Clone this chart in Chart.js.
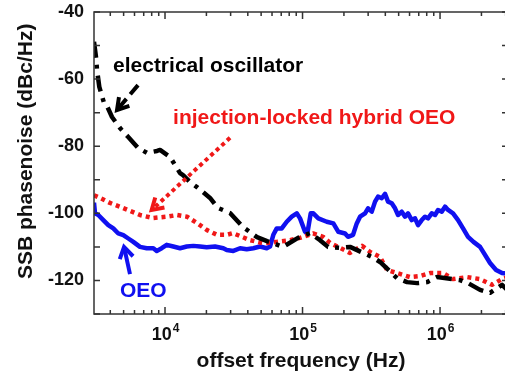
<!DOCTYPE html>
<html>
<head>
<meta charset="utf-8">
<script src="https://cdn.jsdelivr.net/npm/chart.js@4"></script>
<style>
  html, body { margin: 0; padding: 0; background: #fff; overflow: hidden; }
  #wrap { width: 505px; height: 376px; overflow: hidden; }
</style>
</head>
<body>
<div id="wrap"><canvas id="myChart" width="508" height="376"></canvas></div>
<script>
// offset frequency (Hz) and SSB phase noise (dBc/Hz)
const oeoFreq = [3045, 3097, 3274, 3559, 3870, 4207, 4574, 4975, 5409, 5881, 6579, 7361, 8220, 8700, 9463,
    10290, 11490, 12860, 14380, 16060, 17970, 20100, 23110, 26550, 28100, 31390, 35120, 39290, 43870, 49080,
    54910, 58020, 61330, 64930, 70600, 76770, 83480, 90760, 95900, 104300, 108400, 114700, 119800, 130300,
    150000, 167500, 182200, 203800, 214200, 233000, 247900, 261900, 284800, 299500, 318700, 336800, 354100,
    376700, 398100, 418700, 445400, 470700, 495000, 526700, 556600, 585300, 622600, 657900, 691800, 736100,
    778000, 817700, 870100, 919500, 967100, 1029000, 1087000, 1144000, 1243000, 1352000, 1470000, 1598000,
    1750000, 1954000, 2310000, 2555000, 2824000, 3120000];
const oeoNoise = [-96.8, -100.0, -100.5, -102.0, -103.5, -104.5, -106.0, -106.5, -107.5, -108.5, -110.0, -110.4, -110.4, -111.2, -110.4,
    -109.4, -109.9, -110.4, -109.9, -109.7, -109.9, -110.1, -109.9, -110.4, -110.9, -111.2, -110.4, -110.7, -110.4, -109.9,
    -110.4, -109.9, -106.4, -104.5, -104.5, -102.5, -101.0, -100.0, -101.5, -105.5, -106.0, -100.0, -100.0, -101.5,
    -102.5, -103.0, -105.5, -106.0, -107.0, -106.4, -103.0, -101.0, -100.0, -98.5, -99.5, -96.5, -95.0,
    -95.5, -94.2, -96.5, -97.0, -98.5, -100.5, -99.5, -101.0, -100.0, -102.0, -101.5, -103.5, -102.0,
    -101.0, -101.5, -100.0, -100.5, -99.0, -99.5, -98.0, -99.0, -100.0, -102.0, -104.5, -107.0,
    -108.5, -110.0, -114.8, -116.9, -117.8, -118.0];

const ilFreq = [3045, 3367, 3981, 4950, 6579, 8178, 10340, 12230, 14450, 17090, 20210, 23890, 28240, 31230,
    41520, 51610, 65250, 81140, 95900, 119200, 141000, 158500, 187400, 221600, 270800, 309700, 366100,
    411700, 486900, 605100, 715300, 845800, 1051000, 1243000, 1572000, 1954000, 2389000, 2824000, 3120000];
const ilNoise = [-94.6, -95.4, -96.9, -98.4, -100.5, -101.4, -101.0, -100.5, -101.0, -102.9, -105.0, -106.4, -106.4, -105.9,
    -108.0, -108.9, -108.5, -108.0, -107.3, -106.0, -107.0, -108.8, -110.3, -111.8, -109.7, -111.5, -113.0,
    -116.9, -117.8, -119.0, -118.7, -117.8, -117.8, -119.6, -119.0, -119.6, -121.3, -119.6, -119.0];

const elFreq = [3045, 3149, 3203, 3328, 3601, 3786, 4116, 4708, 5382, 6364, 7398, 8748, 9196, 10870, 12860,
    13520, 15200, 17090, 21250, 24290, 29700, 36930, 46690, 55180, 61020, 72150, 92750, 113400, 134100,
    153300, 187400, 221600, 320300, 366100, 486900, 575400, 680400, 804600, 951000, 1398000, 1598000,
    1954000, 2310000, 2824000, 3120000];
const elNoise = [-48.9, -53.4, -57.3, -62.3, -67.1, -68.0, -71.3, -74.6, -77.2, -80.5, -82.0, -81.4, -81.1, -83.2, -88.0,
    -88.6, -90.7, -92.2, -95.4, -98.4, -99.9, -104.1, -107.1, -108.3, -108.9, -110.0, -107.3, -105.9, -108.0,
    -110.0, -110.3, -110.0, -113.0, -114.5, -119.3, -120.5, -120.8, -120.5, -119.0, -119.9, -120.8,
    -122.8, -123.7, -121.3, -123.0];

const decadeExponents = [4, 5, 6];

// labels and arrows, placed in data units (frequency, dB)
const notes = [
    { text: 'electrical oscillator', color: '#000', f: 4186, db: -57.9 },
    { text: 'injection-locked hybrid OEO', color: '#f01818', f: 11440, db: -73.4 },
    { text: 'OEO', color: '#1010f0', f: 4708, db: -124.9 }
];
const arrows = [
    { color: '#000', dash: [12, 6], from: [6364, -61.8], to: [4477, -69.2] },
    { color: '#f01818', dash: [4, 3.5], from: [29700, -77.5], to: [8000, -99.0] },
    { color: '#1010f0', dash: [], from: [5564, -118.1], to: [5036, -110.0] }
];

const FONT = 'Liberation Sans, Arial, sans-serif';

const toPoints = (xs, ys) => xs.map((f, i) => ({ x: f, y: ys[i] }));

function drawArrow(ctx, x0, y0, x1, y1, color, dash) {
    const ang = Math.atan2(y1 - y0, x1 - x0);
    const head = 13;
    ctx.save();
    ctx.strokeStyle = color;
    ctx.lineWidth = 4;
    ctx.setLineDash(dash);
    ctx.beginPath();
    ctx.moveTo(x0, y0);
    ctx.lineTo(x1 - 2 * Math.cos(ang), y1 - 2 * Math.sin(ang));
    ctx.stroke();
    ctx.setLineDash([]);
    ctx.lineJoin = 'miter';
    ctx.beginPath();
    ctx.moveTo(x1 - head * Math.cos(ang - 0.55), y1 - head * Math.sin(ang - 0.55));
    ctx.lineTo(x1, y1);
    ctx.lineTo(x1 - head * Math.cos(ang + 0.55), y1 - head * Math.sin(ang + 0.55));
    ctx.stroke();
    ctx.restore();
}

const annotations = {
    id: 'annotations',
    afterDatasetsDraw(chart) {
        const { ctx, scales: { x, y } } = chart;
        ctx.save();
        ctx.font = 'bold 21px ' + FONT;
        ctx.textAlign = 'left';
        ctx.textBaseline = 'alphabetic';
        notes.forEach(n => {
            ctx.fillStyle = n.color;
            ctx.fillText(n.text, x.getPixelForValue(n.f), y.getPixelForValue(n.db));
        });
        ctx.restore();
        arrows.forEach(a => drawArrow(ctx,
            x.getPixelForValue(a.from[0]), y.getPixelForValue(a.from[1]),
            x.getPixelForValue(a.to[0]), y.getPixelForValue(a.to[1]),
            a.color, a.dash));
    }
};

// box frame with inward ticks on all four sides, and 10^n labels
const frame = {
    id: 'frame',
    afterDraw(chart) {
        const { ctx, chartArea: a, scales: { x, y } } = chart;
        ctx.save();
        ctx.strokeStyle = '#333';
        ctx.lineWidth = 1.5;
        ctx.strokeRect(a.left, a.top, a.right - a.left, a.bottom - a.top);
        ctx.beginPath();
        for (let e = 3; e <= 6; e++) {
            for (let m = 1; m <= 9; m++) {
                const v = m * Math.pow(10, e);
                if (v < x.min || v > x.max) continue;
                const px = x.getPixelForValue(v);
                const len = m === 1 ? 7 : 4;
                ctx.moveTo(px, a.bottom); ctx.lineTo(px, a.bottom - len);
                ctx.moveTo(px, a.top); ctx.lineTo(px, a.top + len);
            }
        }
        for (let v = y.min; v <= y.max; v += 10) {
            const py = y.getPixelForValue(v);
            ctx.moveTo(a.left, py); ctx.lineTo(a.left + 6, py);
            ctx.moveTo(a.right, py); ctx.lineTo(a.right - 6, py);
        }
        ctx.stroke();

        ctx.fillStyle = '#111';
        ctx.textBaseline = 'alphabetic';
        ctx.textAlign = 'left';
        decadeExponents.forEach(e => {
            const px = x.getPixelForValue(Math.pow(10, e));
            ctx.font = 'bold 18px ' + FONT;
            const wBase = ctx.measureText('10').width;
            ctx.font = 'bold 12px ' + FONT;
            const wExp = ctx.measureText(String(e)).width;
            const start = px - (wBase + wExp) / 2;
            ctx.font = 'bold 18px ' + FONT;
            ctx.fillText('10', start, a.bottom + 26);
            ctx.font = 'bold 12px ' + FONT;
            ctx.fillText(String(e), start + wBase + 1, a.bottom + 18);
        });
        ctx.restore();
    }
};

const config = {
    type: 'line',
    data: {
        datasets: [
            {
                label: 'electrical oscillator',
                data: toPoints(elFreq, elNoise),
                borderColor: '#000',
                borderWidth: 4.5,
                borderDash: [16, 7, 4, 7]
            },
            {
                label: 'injection-locked hybrid OEO',
                data: toPoints(ilFreq, ilNoise),
                borderColor: '#f01818',
                borderWidth: 4.5,
                borderDash: [4, 4]
            },
            {
                label: 'OEO',
                data: toPoints(oeoFreq, oeoNoise),
                borderColor: '#1010f0',
                borderWidth: 4.5
            }
        ]
    },
    options: {
        responsive: false,
        animation: false,
        devicePixelRatio: 1,
        layout: { padding: 0 },
        elements: {
            point: { radius: 0 },
            line: { tension: 0, borderJoinStyle: 'round' }
        },
        scales: {
            x: {
                type: 'logarithmic',
                min: 3045,
                max: 3.12e6,
                grid: { display: false, drawTicks: false },
                border: { display: false },
                ticks: { display: false },
                title: {
                    display: true,
                    text: 'offset frequency (Hz)',
                    color: '#111',
                    font: { family: FONT, size: 21, weight: 'bold' },
                    padding: { top: 0, bottom: 2 }
                },
                afterFit(scale) { scale.height = 62; }
            },
            y: {
                min: -130,
                max: -40,
                grid: { display: false, drawTicks: false },
                border: { display: false },
                ticks: {
                    stepSize: 10,
                    padding: 10,
                    color: '#111',
                    font: { family: FONT, size: 18, weight: 'bold' },
                    callback: (v) => (v % 20 === 0 ? v : '')
                },
                title: {
                    display: true,
                    text: '    SSB phasenoise (dBc/Hz)',
                    color: '#111',
                    font: { family: FONT, size: 21, weight: 'bold' },
                    padding: { top: 14, bottom: 0 }
                },
                afterFit(scale) {
                    scale.width = 94;
                    scale.paddingTop = 12;
                    scale.paddingBottom = 0;
                }
            }
        },
        plugins: {
            legend: { display: false },
            tooltip: { enabled: false }
        }
    },
    plugins: [annotations, frame]
};

const myChart = new Chart(document.getElementById('myChart').getContext('2d'), config);
</script>
</body>
</html>
